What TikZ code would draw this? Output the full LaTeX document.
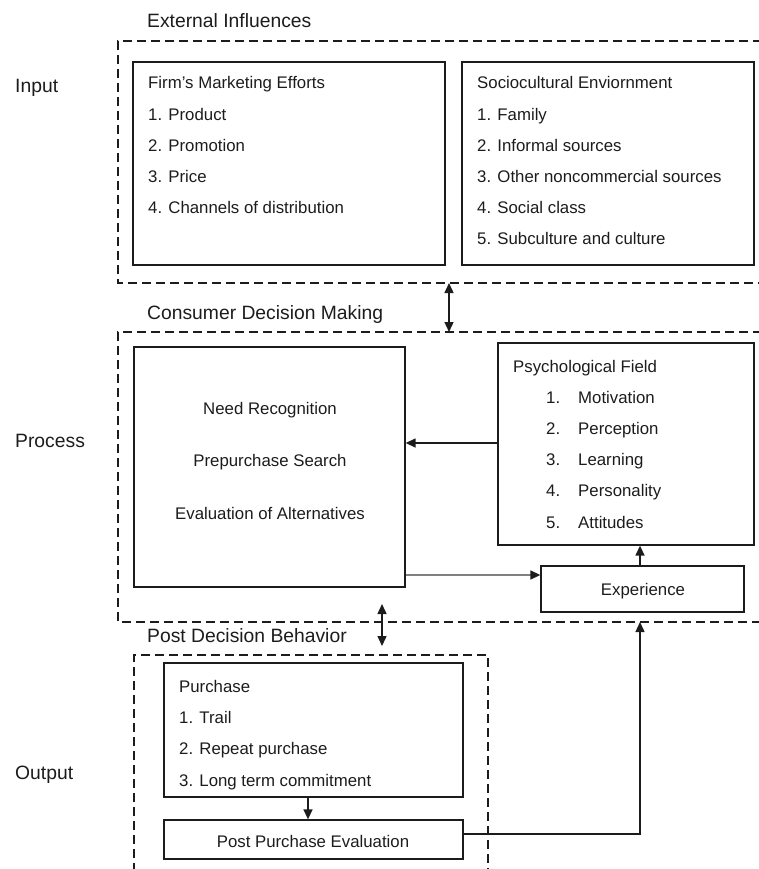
\documentclass[tikz,border=0pt]{standalone}
\usepackage{fontspec}
\setmainfont{Liberation Sans}
\usetikzlibrary{arrows.meta}
\definecolor{ink}{HTML}{1C1C1C}
\tikzset{
  box/.style={draw=ink, line width=1.3pt, inner sep=0pt, minimum width=#1},
  frame/.style={draw=ink, line width=1.2pt, dash pattern=on 9pt off 5pt},
  body/.style={anchor=mid west, inner sep=0pt, yshift=-3pt, text=ink, font=\fontsize{16.8}{19}\selectfont},
  cbody/.style={anchor=mid, inner sep=0pt, yshift=-3pt, text=ink, font=\fontsize{16.8}{19}\selectfont},
  head/.style={anchor=mid west, inner sep=0pt, yshift=-3pt, text=ink, font=\fontsize{19.3}{22}\selectfont},
  tip/.style={-{Triangle[length=10pt,width=9pt]}},
  conn/.style={draw=ink, line width=1.4pt, tip},
  dconn/.style={draw=ink, line width=1.4pt, {Triangle[length=10pt,width=9pt]}-{Triangle[length=10pt,width=9pt]}}
}
\begin{document}
\begin{tikzpicture}[x=1pt,y=-1pt]
\useasboundingbox (0,0) rectangle (759,869);

% ---- section headings and side labels ----
\node[head] (hext) at (147,22) {External Influences};
\node[head] (hcdm) at (147,314) {Consumer Decision Making};
\node[head] (hpdb) at (147,637) {Post Decision Behavior};
\node[head] (lin)  at (15,87)  {Input};
\node[head] (lpro) at (15,442) {Process};
\node[head] (lout) at (15,774) {Output};

% ---- dashed frames (open on the page edges) ----
\draw[frame] (762,41) -- (118,41) -- (118,283) -- (762,283);
\draw[frame] (762,332) -- (118,332) -- (118,622) -- (762,622);
\draw[frame] (134,872) -- (134,655) -- (488,655) -- (488,872);
\coordinate (f1b) at (449,283);
\coordinate (f2t) at (449,332);
\coordinate (f2b) at (382,604);
\coordinate (f3t) at (382,646);
\coordinate (f2in) at (640,622);

% ---- external influences ----
\node[box=312pt, minimum height=203pt] (firm) at (289,163.5) {};
\node[body] (firm0) at (148,83)  {Firm’s Marketing Efforts};
\node[body] (firm1) at (148,115) {1. Product};
\node[body] (firm2) at (148,146) {2. Promotion};
\node[body] (firm3) at (148,177) {3. Price};
\node[body] (firm4) at (148,208) {4. Channels of distribution};

\node[box=292pt, minimum height=203pt] (soc) at (608,163.5) {};
\node[body] (soc0) at (477,83)  {Sociocultural Enviornment};
\node[body] (soc1) at (477,115) {1. Family};
\node[body] (soc2) at (477,146) {2. Informal sources};
\node[body] (soc3) at (477,177) {3. Other noncommercial sources};
\node[body] (soc4) at (477,208) {4. Social class};
\node[body] (soc5) at (477,239) {5. Subculture and culture};

% ---- consumer decision making ----
\node[box=271pt, minimum height=240pt] (need) at (269.5,467) {};
\node[cbody] (need1) at (270,409) {Need Recognition};
\node[cbody] (need2) at (270,461) {Prepurchase Search};
\node[cbody] (need3) at (270,514) {Evaluation of Alternatives};

\node[box=256pt, minimum height=202pt] (psy) at (626,444) {};
\node[body] (psy0) at (513,367) {Psychological Field};
\node[body] (psyn1) at (546,398) {1.};
\node[body] (psyn2) at (546,429) {2.};
\node[body] (psyn3) at (546,460) {3.};
\node[body] (psyn4) at (546,491) {4.};
\node[body] (psyn5) at (546,523) {5.};
\node[body] (psy1) at (578,398) {Motivation};
\node[body] (psy2) at (578,429) {Perception};
\node[body] (psy3) at (578,460) {Learning};
\node[body] (psy4) at (578,491) {Personality};
\node[body] (psy5) at (578,523) {Attitudes};

\node[box=203pt, minimum height=46pt] (exp) at (642.5,589) {};
\node[cbody] (exptext) at (643,590) {Experience};

% ---- post decision behavior ----
\node[box=299pt, minimum height=134pt] (pur) at (313.5,730) {};
\node[body] (pur0) at (179,687) {Purchase};
\node[body] (pur1) at (179,718) {1. Trail};
\node[body] (pur2) at (179,749) {2. Repeat purchase};
\node[body] (pur3) at (179,781) {3. Long term commitment};

\node[box=299pt, minimum height=39pt] (ppe) at (313.5,839.5) {};
\node[cbody] (ppetext) at (313,842) {Post Purchase Evaluation};

% ---- connectors ----
\draw[dconn] (f1b) -- (f2t);
\draw[dconn] (f2b) -- (f3t);
\draw[conn] (psy.west |- 0,443) -- (need.east |- 0,443);
\draw[conn, draw=gray, -{Triangle[length=10pt,width=9pt,fill=ink,color=ink]}] (need.east |- 0,575) -- (exp.west |- 0,575);
\draw[conn] (exp.north -| 640,0) -- (psy.south -| 640,0);
\draw[conn] (pur.south -| 308,0) -- (ppe.north -| 308,0);
\draw[conn] (ppe.east |- 0,834) -| (f2in);
\end{tikzpicture}
\end{document}
